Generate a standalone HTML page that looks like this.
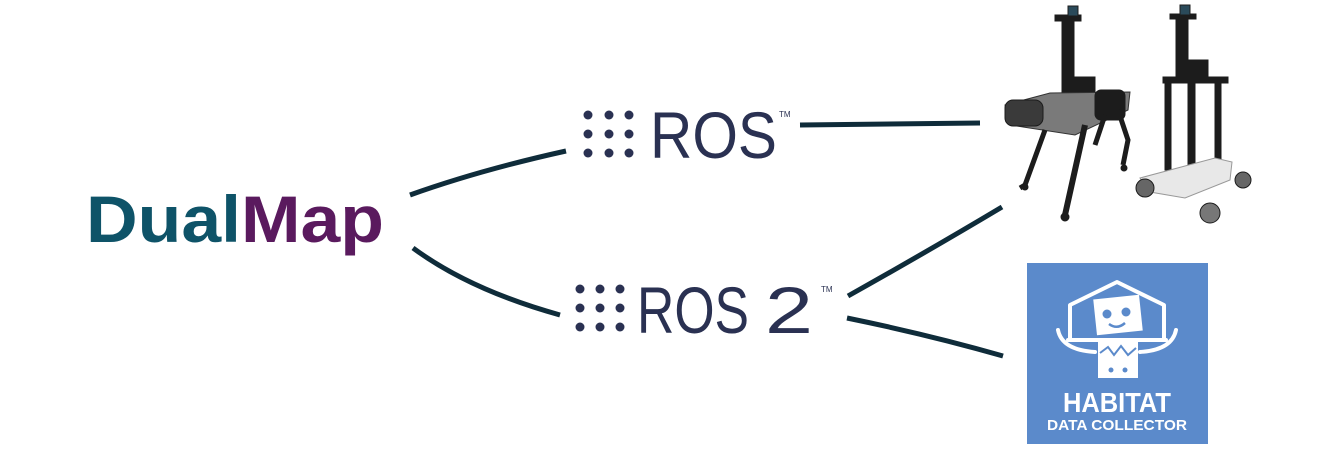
<!DOCTYPE html>
<html><head><meta charset="utf-8"><style>
body{margin:0;width:1334px;height:454px;background:#fff;overflow:hidden;position:relative;font-family:"Liberation Sans",sans-serif}
</style></head><body>
<svg width="1334" height="454" style="position:absolute;left:0;top:0">
<text x="86" y="242" font-family="Liberation Sans" font-weight="bold" font-size="66" textLength="298" lengthAdjust="spacingAndGlyphs"><tspan fill="#0e5368">Dual</tspan><tspan fill="#5a1a5e">Map</tspan></text>
<g stroke="#0f2c3a" stroke-width="5" fill="none" stroke-linecap="butt">
<path d="M410 195 Q480 170 566 151"/>
<path d="M413 248 Q470 290 560 315"/>
<path d="M800 125 L980 123"/>
<path d="M848 296 Q930 250 1002 207"/>
<path d="M847 318 Q930 335 1003 356"/>
</g>
<g fill="#2a3152">
<circle cx="588" cy="115" r="4.5"/><circle cx="609" cy="115" r="4.5"/><circle cx="629" cy="115" r="4.5"/>
<circle cx="588" cy="134" r="4.5"/><circle cx="609" cy="134" r="4.5"/><circle cx="629" cy="134" r="4.5"/>
<circle cx="588" cy="153" r="4.5"/><circle cx="609" cy="153" r="4.5"/><circle cx="629" cy="153" r="4.5"/>
<circle cx="580" cy="289" r="4.5"/><circle cx="600" cy="289" r="4.5"/><circle cx="620" cy="289" r="4.5"/>
<circle cx="580" cy="308" r="4.5"/><circle cx="600" cy="308" r="4.5"/><circle cx="620" cy="308" r="4.5"/>
<circle cx="580" cy="327" r="4.5"/><circle cx="600" cy="327" r="4.5"/><circle cx="620" cy="327" r="4.5"/>
</g>
<text x="650" y="158" font-family="Liberation Sans" font-size="66" fill="#2a3152" textLength="127" lengthAdjust="spacingAndGlyphs">ROS</text>
<text x="779" y="117" font-family="Liberation Sans" font-size="8" fill="#2a3152">TM</text>
<text x="637" y="333" font-family="Liberation Sans" font-size="66" fill="#2a3152" textLength="112" lengthAdjust="spacingAndGlyphs">ROS</text>
<text x="765" y="333" font-family="Liberation Sans" font-size="66" fill="#2a3152" textLength="48" lengthAdjust="spacingAndGlyphs">2</text>
<text x="821" y="292" font-family="Liberation Sans" font-size="8" fill="#2a3152">TM</text>
<!-- dog robot -->
<g fill="#1c1c1c" stroke="#1c1c1c">
<rect x="1062" y="18" width="12" height="80"/>
<rect x="1055" y="15" width="26" height="6"/>
<rect x="1068" y="6" width="10" height="10" fill="#2a4a5a"/>
<rect x="1065" y="77" width="30" height="18"/>
<polygon points="1005,105 1050,93 1130,92 1128,110 1075,135 1010,125" fill="#7a7a7a" stroke="#333"/>
<rect x="1005" y="100" width="38" height="26" rx="8" fill="#3a3a3a"/>
<rect x="1095" y="90" width="30" height="30" rx="6"/>
<path d="M1045 130 L1025 185 L1020 188" stroke-width="5" fill="none"/>
<path d="M1085 125 L1075 170 L1065 215" stroke-width="6" fill="none"/>
<path d="M1118 110 L1128 140 L1123 165" stroke-width="5" fill="none"/>
<path d="M1105 115 L1095 145" stroke-width="5" fill="none"/>
<circle cx="1065" cy="217" r="4"/><circle cx="1025" cy="187" r="3"/><circle cx="1124" cy="168" r="3"/>
</g>
<!-- wheeled robot -->
<g fill="#1c1c1c" stroke="#1c1c1c">
<rect x="1176" y="18" width="12" height="65"/>
<rect x="1170" y="14" width="26" height="5"/>
<rect x="1180" y="5" width="10" height="10" fill="#2a4a5a"/>
<rect x="1182" y="60" width="26" height="20"/>
<rect x="1163" y="77" width="65" height="6"/>
<rect x="1165" y="80" width="6" height="90"/>
<rect x="1188" y="80" width="7" height="100"/>
<rect x="1215" y="80" width="6" height="85"/>
<polygon points="1140,178 1215,158 1232,162 1230,180 1185,198 1150,192" fill="#e8e8e8" stroke="#999"/>
<circle cx="1145" cy="188" r="9" fill="#666"/><circle cx="1243" cy="180" r="8" fill="#666"/><circle cx="1210" cy="213" r="10" fill="#777"/>
</g>
<!-- habitat -->
<rect x="1027" y="263" width="181" height="181" fill="#5b8acb"/>
<g stroke="#fff" stroke-width="4" fill="none" stroke-linejoin="round" stroke-linecap="round">
<path d="M1070 340 L1070 305 L1117 282 L1164 305 L1164 340"/>
<path d="M1068 340 L1098 340 M1136 340 L1166 340"/>
<path d="M1058 330 Q1062 350 1095 352 M1176 330 Q1172 350 1140 352"/>
</g>
<rect x="1095" y="297" width="46" height="36" fill="#fff" transform="rotate(-6 1118 315)"/>
<circle cx="1107" cy="314" r="4.5" fill="#5b8acb"/><circle cx="1126" cy="312" r="4.5" fill="#5b8acb"/>
<path d="M1109 324 Q1117 330 1125 323" stroke="#5b8acb" stroke-width="2.5" fill="none"/>
<rect x="1098" y="338" width="40" height="40" fill="#fff"/>
<path d="M1100 353 L1108 347 L1114 355 L1121 346 L1128 355 L1136 348" stroke="#5b8acb" stroke-width="2" fill="none"/>
<circle cx="1111" cy="370" r="2.5" fill="#5b8acb"/><circle cx="1125" cy="370" r="2.5" fill="#5b8acb"/>
<text x="1117" y="412" text-anchor="middle" font-family="Liberation Sans" font-weight="bold" font-size="28" fill="#fff" textLength="108" lengthAdjust="spacingAndGlyphs">HABITAT</text>
<text x="1117" y="430" text-anchor="middle" font-family="Liberation Sans" font-weight="bold" font-size="15" fill="#fff" textLength="140" lengthAdjust="spacingAndGlyphs">DATA COLLECTOR</text>
</svg>
</body></html>
